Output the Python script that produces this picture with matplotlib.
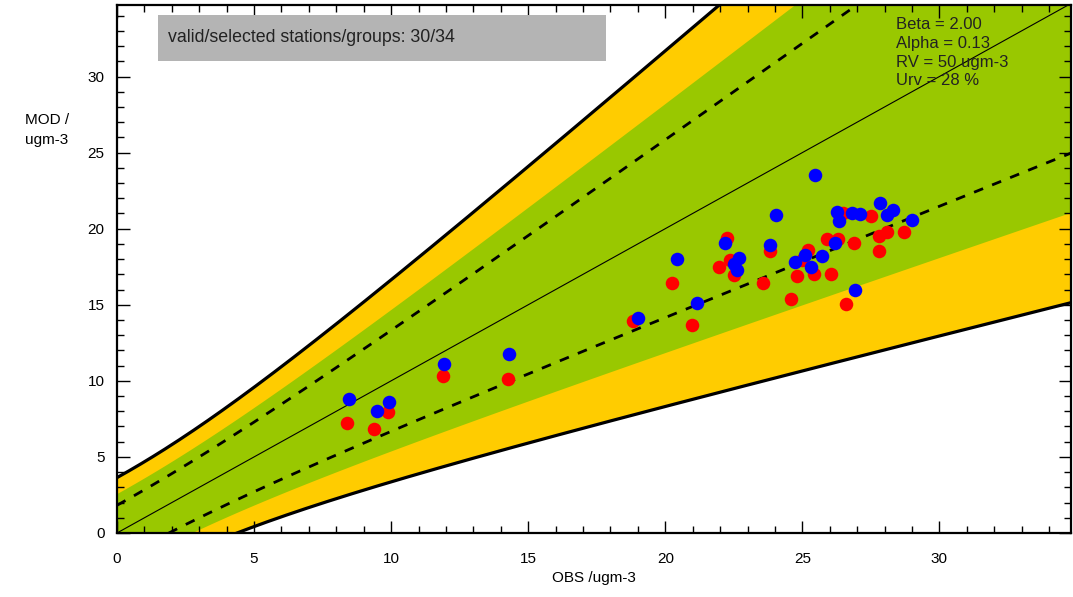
import numpy as np
from matplotlib import pyplot as plt
from matplotlib.ticker import MultipleLocator
from matplotlib.patches import Rectangle

plt.rcParams['font.family'] = ['Liberation Sans', 'DejaVu Sans']

# parametros de incertidumbre
BETA  = 2.00
ALPHA = 0.13
RV    = 50.0
URV   = 0.28
GREEN_K = 1.4   # ancho de la zona verde (en unidades de U)

# estaciones (obs, mod)
obs_red = [8.38, 9.38, 9.9, 11.89, 14.26, 18.84, 20.24, 20.97, 21.95, 22.25,
           22.37, 22.5, 23.57, 23.83, 24.6, 24.8, 25.0, 25.2, 25.42, 25.9,
           26.05, 26.3, 26.5, 26.6, 26.9, 27.5, 27.8, 27.8, 28.1, 28.7]
mod_red = [7.26, 6.86, 7.96, 10.33, 10.15, 13.9, 16.42, 13.68, 17.5, 19.4,
           17.96, 16.97, 16.42, 18.55, 15.35, 16.9, 17.96, 18.6, 17.0, 19.3,
           17.0, 19.3, 21.05, 15.05, 19.05, 20.86, 19.5, 18.55, 19.8, 19.76]
obs_blue = [8.48, 9.48, 9.94, 11.93, 14.3, 19.0, 20.43, 21.15, 22.19, 22.5,
            22.6, 22.7, 23.83, 24.04, 24.75, 25.1, 25.3, 25.47, 25.7, 26.2,
            26.27, 26.35, 26.8, 26.93, 27.1, 27.85, 28.1, 28.3, 29.0]
mod_blue = [8.82, 8.03, 8.64, 11.1, 11.76, 14.1, 18.0, 15.1, 19.05, 17.7,
            17.26, 18.1, 18.95, 20.9, 17.8, 18.3, 17.5, 23.5, 18.2, 19.06,
            21.1, 20.5, 21.03, 16.0, 20.97, 21.7, 20.9, 21.25, 20.55]

XMAX = 34.8
YMAX = 34.7

def unc(o):
    return URV*np.sqrt((1 - ALPHA**2)*o**2 + ALPHA**2*RV**2)

o = np.linspace(0, XMAX, 400)
u = unc(o)

fig = plt.figure(figsize=(10.73, 5.97), dpi=100)
ax = fig.add_axes([117/1073, 1-533/597, (1071-117)/1073, (533-5)/597])

ax.fill_between(o, o - BETA*u, o + BETA*u, color='#ffcc00', lw=0)
ax.fill_between(o, o - GREEN_K*u, o + GREEN_K*u, color='#99c800', lw=0)
ax.plot(o, o + BETA*u, color='k', lw=2.3)
ax.plot(o, o - BETA*u, color='k', lw=2.3)
ax.plot(o, o + u, color='k', lw=2, ls=(0, (3.5, 3.5)))
ax.plot(o, o - u, color='k', lw=2, ls=(0, (3.5, 3.5)))
ax.plot(o, o, color='k', lw=0.8)

ax.scatter(obs_red, mod_red, s=95, color='#ff0000', zorder=5, lw=0)
ax.scatter(obs_blue, mod_blue, s=95, color='#0000ff', zorder=6, lw=0)

ax.set_xlim(0, XMAX)
ax.set_ylim(0, YMAX)
ax.xaxis.set_major_locator(MultipleLocator(5))
ax.yaxis.set_major_locator(MultipleLocator(5))
ax.xaxis.set_minor_locator(MultipleLocator(1))
ax.yaxis.set_minor_locator(MultipleLocator(1))
ax.tick_params(which='both', direction='in', top=True, right=True,
               labelsize=11, colors='k', pad=9)
ax.tick_params(which='major', length=9, width=1)
ax.tick_params(which='minor', length=5, width=1)
ax.tick_params(axis='x', pad=14)
for s in ax.spines.values():
    s.set_linewidth(1.6)

ax.set_xlabel('OBS /ugm-3', fontsize=11, labelpad=3)
fig.text(25/1073, 1-130/597, 'MOD /\nugm-3', fontsize=11, ha='left', va='center',
         linespacing=1.6)

# caja gris con el numero de estaciones
ax.add_patch(Rectangle((0.043, 0.894), 0.4697, 0.087, transform=ax.transAxes,
                       fc='#b4b4b4', ec='none', zorder=8))
ax.text(0.0535, 0.9375, 'valid/selected stations/groups: 30/34', transform=ax.transAxes,
        fontsize=12.8, va='center', ha='left', color='#222222', zorder=9)
ax.text(0.8165, 0.978, 'Beta = %.2f\nAlpha = %.2f\nRV = %d ugm-3\nUrv = %d %%'
        % (BETA, ALPHA, RV, URV*100), transform=ax.transAxes,
        fontsize=12, va='top', ha='left', linespacing=1.33, color='#222222', zorder=7)

plt.savefig('out.png')
